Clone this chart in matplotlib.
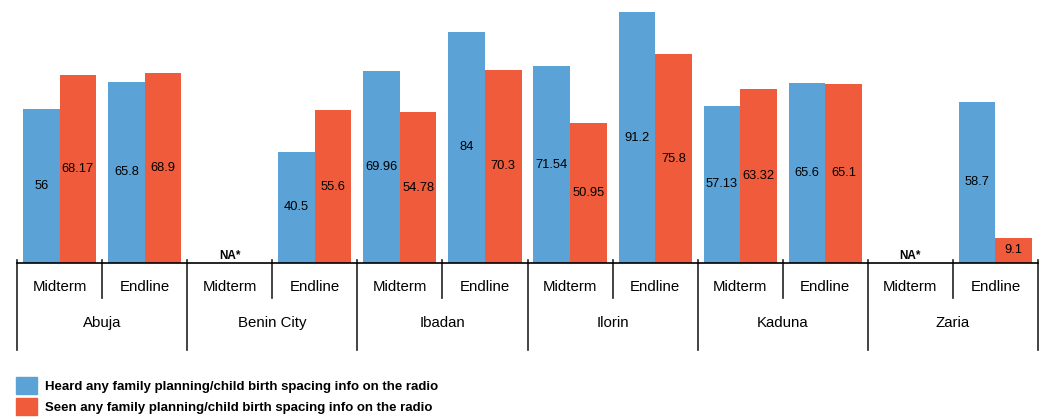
import numpy as np
import matplotlib.pyplot as plt
from matplotlib.patches import Patch

plt.rcParams['font.family'] = ['Liberation Sans Narrow', 'Liberation Sans', 'DejaVu Sans']

cities = ['Abuja', 'Benin City', 'Ibadan', 'Ilorin', 'Kaduna', 'Zaria']
periods = ['Midterm', 'Endline']
# None = NA*
heard = [56, 65.8, None, 40.5, 69.96, 84, 71.54, 91.2, 57.13, 65.6, None, 58.7]
seen = [68.17, 68.9, None, 55.6, 54.78, 70.3, 50.95, 75.8, 63.32, 65.1, None, 9.1]
labels_heard = ['56', '65.8', None, '40.5', '69.96', '84', '71.54', '91.2', '57.13', '65.6', None, '58.7']
labels_seen = ['68.17', '68.9', None, '55.6', '54.78', '70.3', '50.95', '75.8', '63.32', '65.1', None, '9.1']

blue = '#5ba3d6'
red = '#f05b3c'

fig = plt.figure(figsize=(10.46, 4.19), dpi=100)
ax = fig.add_axes([17 / 1046, 1 - 263 / 419, 1021 / 1046, 263 / 419])

x = np.arange(len(heard))
w = 0.43
off = 0.215
for i in x:
    if heard[i] is None:
        ax.text(i, 2.6, 'NA*', ha='center', va='center', fontsize=8.5, fontweight='bold')
        continue
    ax.bar(i - off, heard[i], w, color=blue)
    ax.bar(i + off, seen[i], w, color=red)
    ax.text(i - off, heard[i] / 2, labels_heard[i], ha='center', va='center', fontsize=9.3)
    ax.text(i + off, seen[i] / 2, labels_seen[i], ha='center', va='center', fontsize=9.3)

ax.set_xlim(-0.5, len(heard) - 0.5)
ax.set_ylim(0, 95.6)
for s in ['top', 'right', 'left']:
    ax.spines[s].set_visible(False)
ax.spines['bottom'].set_linewidth(1.2)
ax.set_xticks([])
ax.set_yticks([])

tr = ax.get_xaxis_transform()
for i in x:
    ax.text(i, -0.092, periods[i % 2], transform=tr, ha='center', va='center', fontsize=10.8)
for g, c in enumerate(cities):
    ax.text(2 * g + 0.5, -0.228, c, transform=tr, ha='center', va='center', fontsize=10.8)
    ax.plot([2 * g + 0.5] * 2, [0.012, -0.133], transform=tr, color='#222222', lw=1.2, clip_on=False)
for b in range(len(cities) + 1):
    ax.plot([2 * b - 0.5] * 2, [0.012, -0.331], transform=tr, color='#222222', lw=1.2, clip_on=False)

handles = [Patch(color=blue), Patch(color=red)]
fig.legend(handles,
           ['Heard any family planning/child birth spacing info on the radio',
            'Seen any family planning/child birth spacing info on the radio'],
           loc='lower left', bbox_to_anchor=(0.008, -0.01), frameon=False,
           prop={'size': 9.5, 'weight': 'bold'}, handlelength=1.6, handleheight=1.6,
           handletextpad=0.6, labelspacing=0.3, borderaxespad=0.2)

fig.savefig('out.png', dpi=100)
